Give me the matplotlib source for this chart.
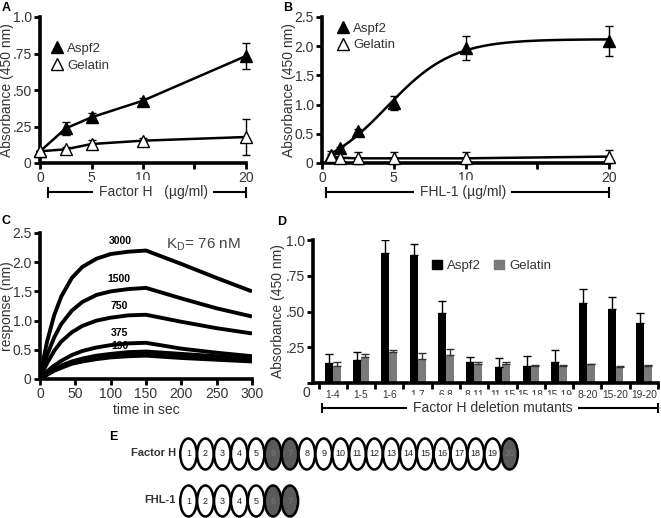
import numpy as np
import matplotlib
matplotlib.use('Agg')
import matplotlib.pyplot as plt
from matplotlib.patches import Ellipse, Patch
from matplotlib.lines import Line2D

plt.rcParams['font.family'] = ['Liberation Sans', 'DejaVu Sans']

# ---------------- data ----------------
# Panel A
a_conc = [0, 2.5, 5, 10, 20]
a_aspf2 = [0.08, 0.237, 0.313, 0.427, 0.733]
a_aspf2_err = [0.0, 0.045, 0.03, 0.02, 0.09]
a_gel = [0.08, 0.094, 0.13, 0.153, 0.178]
a_gel_err = [0.0, 0.015, 0.03, 0.015, 0.12]
a_xticks = [0, 5, 10, 15, 20]
a_xticklabels = ['0', '5', '10', '', '20']
a_yticks = [0, 0.25, 0.5, 0.75, 1.0]
a_yticklabels = ['0', '.25', '.50', '.75', '1.0']

# Panel B
b_conc = [0.625, 1.25, 2.5, 5, 10, 20]
b_aspf2 = [0.13, 0.25, 0.55, 1.03, 1.97, 2.09]
b_aspf2_err = [0.02, 0.03, 0.04, 0.12, 0.2, 0.26]
b_gel = [0.12, 0.09, 0.08, 0.08, 0.08, 0.11]
b_gel_err = [0.09, 0.09, 0.1, 0.1, 0.1, 0.11]
b_xticks = [0, 5, 10, 15, 20]
b_xticklabels = ['0', '5', '10', '', '20']
b_yticks = [0, 0.5, 1.0, 1.5, 2.0, 2.5]
b_yticklabels = ['0', '0.5', '1.0', '1.5', '2.0', '2.5']

# Panel C (sensorgrams, values read at time points)
c_time = [0, 5, 10, 20, 30, 45, 60, 80, 100, 125, 150, 200, 250, 300]
c_conc_labels = ['3000', '1500', '750', '375', '190', '', '']
c_resp = [
    [0, 0.35, 0.64, 1.09, 1.41, 1.73, 1.92, 2.06, 2.14, 2.18, 2.20, 1.97, 1.73, 1.50],
    [0, 0.22, 0.41, 0.71, 0.94, 1.17, 1.32, 1.44, 1.50, 1.54, 1.56, 1.38, 1.21, 1.07],
    [0, 0.15, 0.27, 0.48, 0.64, 0.80, 0.91, 1.00, 1.05, 1.09, 1.10, 0.98, 0.87, 0.78],
    [0, 0.07, 0.13, 0.23, 0.31, 0.41, 0.48, 0.54, 0.58, 0.61, 0.62, 0.52, 0.45, 0.39],
    [0, 0.05, 0.09, 0.16, 0.23, 0.30, 0.35, 0.40, 0.43, 0.46, 0.47, 0.43, 0.39, 0.35],
    [0, 0.04, 0.08, 0.15, 0.21, 0.28, 0.33, 0.37, 0.40, 0.42, 0.43, 0.39, 0.35, 0.32],
    [0, 0.04, 0.07, 0.14, 0.19, 0.26, 0.30, 0.34, 0.37, 0.39, 0.40, 0.36, 0.33, 0.30],
]
c_label_pos = [(113, 2.28), (111, 1.63), (112, 1.16), (112, 0.70), (113, 0.48)]
c_xticks = [0, 50, 100, 150, 200, 250, 300]
c_yticks = [0, 0.5, 1.0, 1.5, 2.0, 2.5]
c_yticklabels = ['0', '0.5', '1.0', '1.5', '2.0', '2.5']

# Panel D
d_labels = ['1-4', '1-5', '1-6', '1-7', '6-8', '8-11', '11-15', '15-18',
            '15-19', '8-20', '15-20', '19-20']
d_aspf2 = [0.14, 0.16, 0.91, 0.895, 0.49, 0.15, 0.115, 0.12, 0.15, 0.56, 0.52, 0.42]
d_aspf2_err = [0.06, 0.06, 0.09, 0.08, 0.08, 0.03, 0.06, 0.07, 0.08, 0.095, 0.08, 0.07]
d_gel = [0.12, 0.18, 0.22, 0.17, 0.195, 0.135, 0.135, 0.12, 0.12, 0.13, 0.115, 0.12]
d_gel_err = [0.03, 0.02, 0.01, 0.04, 0.04, 0.01, 0.01, 0.003, 0.003, 0.005, 0.003, 0.005]
d_yticks = [0, 0.25, 0.5, 0.75, 1.0]
d_yticklabels = ['', '.25', '.50', '.75', '1.0']

# Panel E
e_fh_modules = list(range(1, 21))
e_fh_dark = [6, 7, 20]
e_fhl_modules = list(range(1, 8))
e_fhl_dark = [6, 7]

# ---------------- figure ----------------
W, H = 661, 518
fig = plt.figure(figsize=(W / 100, H / 100), dpi=100)
TXT = '#333333'


def px_axes(l, r, top, bot):
    return fig.add_axes([l / W, (H - bot) / H, (r - l) / W, (bot - top) / H])


def style(ax):
    for s in ('top', 'right'):
        ax.spines[s].set_visible(False)
    for s in ('left', 'bottom'):
        ax.spines[s].set_linewidth(2.6)
        ax.spines[s].set_color('black')
    ax.tick_params(direction='out', length=4, width=2, colors='black',
                   labelcolor=TXT, labelsize=10, pad=2)
    ax.set_facecolor('none')


def bracket(ax, x1, x2, y, xt, text, fs=10):
    kw = dict(transform=ax.transAxes, clip_on=False, color='black', lw=1.5)
    ax.plot([x1, x2], [y, y], **kw)
    ax.plot([x1, x1], [y - 0.03, y + 0.03], **kw)
    ax.plot([x2, x2], [y - 0.03, y + 0.03], **kw)
    ax.text(xt, y, text, transform=ax.transAxes, ha='center', va='center',
            fontsize=fs, color=TXT,
            bbox=dict(facecolor='white', edgecolor='none', pad=4))


# ---- Panel A ----
axA = px_axes(40, 246, 17, 163)
style(axA)
axA.errorbar(a_conc, a_aspf2, yerr=a_aspf2_err, fmt='-', marker='^', color='black',
             ms=8, lw=1.8, elinewidth=1.0, capsize=3, capthick=1.0, clip_on=False,
             zorder=3)
axA.errorbar(a_conc, a_gel, yerr=a_gel_err, fmt='-', marker='^', color='black',
             mfc='white', mec='black', ms=8, lw=1.8, elinewidth=1.0, capsize=3,
             capthick=1.0, clip_on=False, zorder=3)
axA.set_xlim(0, 20)
axA.set_ylim(0, 1.0)
axA.set_xticks(a_xticks)
axA.set_xticklabels(a_xticklabels)
axA.set_yticks(a_yticks)
axA.set_yticklabels(a_yticklabels)
axA.set_ylabel('Absorbance (450 nm)', fontsize=10, color=TXT)
axA.yaxis.set_label_coords(-0.128, 0.5)
hA = [Line2D([], [], marker='^', ls='none', color='black', ms=8),
      Line2D([], [], marker='^', ls='none', color='black', mfc='white', ms=8)]
axA.legend(hA, ['Aspf2', 'Gelatin'], loc='upper left', bbox_to_anchor=(0.03, 0.86),
           frameon=False, fontsize=9.5, handlelength=0.8, handletextpad=0.4,
           labelspacing=0.35, labelcolor=TXT, borderaxespad=0)
bracket(axA, 0.039, 1.0, -0.2, 0.55, 'Factor H   (µg/ml)')

# ---- Panel B ----
axB = px_axes(322, 609, 17, 163)
style(axB)
xs = np.array(b_conc)
ys = np.array(b_aspf2)
best = None
for x0 in np.linspace(2, 9, 141):
    for s in np.linspace(0.5, 4, 141):
        g = 1.0 / (1.0 + np.exp(-(xs - x0) / s))
        M = np.vstack([np.ones_like(g), g]).T
        coef = np.linalg.lstsq(M, ys, rcond=None)[0]
        r = np.sum((M @ coef - ys) ** 2)
        if best is None or r < best[0]:
            best = (r, x0, s, coef)
_, bx0, bs, bcoef = best
xfit = np.linspace(xs.min(), xs.max(), 300)
yfit = bcoef[0] + bcoef[1] / (1.0 + np.exp(-(xfit - bx0) / bs))
axB.plot(xfit, yfit, color='black', lw=1.8, zorder=2)
axB.errorbar(b_conc, b_aspf2, yerr=b_aspf2_err, fmt='none', ecolor='black',
             elinewidth=1.0, capsize=3, capthick=1.0, clip_on=False, zorder=3)
axB.plot(b_conc, b_aspf2, ls='none', marker='^', color='black', ms=8,
         clip_on=False, zorder=4)
axB.errorbar(b_conc, b_gel, yerr=b_gel_err, fmt='-', marker='^', color='black',
             mfc='white', mec='black', ms=8, lw=1.8, elinewidth=1.0, capsize=3,
             capthick=1.0, clip_on=False, zorder=5)
axB.set_xlim(0, 20)
axB.set_ylim(0, 2.5)
axB.set_xticks(b_xticks)
axB.set_xticklabels(b_xticklabels)
axB.set_yticks(b_yticks)
axB.set_yticklabels(b_yticklabels)
axB.set_ylabel('Absorbance (450 nm)', fontsize=10, color=TXT)
axB.yaxis.set_label_coords(-0.092, 0.5)
axB.legend(hA, ['Aspf2', 'Gelatin'], loc='upper left', bbox_to_anchor=(0.035, 1.0),
           frameon=False, fontsize=9.5, handlelength=0.8, handletextpad=0.4,
           labelspacing=0.35, labelcolor=TXT, borderaxespad=0)
bracket(axB, 0.014, 1.0, -0.2, 0.49, 'FHL-1 (µg/ml)')

# ---- Panel C ----
axC = px_axes(40, 252, 233, 379)
style(axC)
for vals in c_resp[::-1]:
    axC.plot(c_time, vals, color='black', lw=2.8, solid_joinstyle='round',
             solid_capstyle='butt', zorder=3)
for lab, (tx, ty) in zip(c_conc_labels, c_label_pos):
    axC.text(tx, ty, lab, ha='center', va='bottom', fontsize=7.5,
             fontweight='bold', color='black', zorder=2)
axC.text(178, 2.3, r'K$_{\mathregular{D}}$= 76 nM', ha='left', va='center',
         fontsize=11, color='#444444')
axC.set_xlim(0, 300)
axC.set_ylim(0, 2.5)
axC.set_xticks(c_xticks)
axC.set_yticks(c_yticks)
axC.set_yticklabels(c_yticklabels)
axC.set_xlabel('time in sec', fontsize=10, color=TXT, labelpad=1)
axC.set_ylabel('response (nm)', fontsize=10, color=TXT)
axC.yaxis.set_label_coords(-0.124, 0.5)

# ---- Panel D ----
axD = px_axes(313, 658, 240, 383)
style(axD)
xd = np.arange(len(d_labels))
bw = 0.28
axD.bar(xd - bw / 2, d_aspf2, bw, color='black', zorder=2)
axD.bar(xd + bw / 2, d_gel, bw, color='#7a7a7a', zorder=2)
axD.errorbar(xd - bw / 2, d_aspf2, yerr=[np.zeros(len(xd)), d_aspf2_err], fmt='none',
             ecolor='black', elinewidth=1.0, capsize=3, capthick=1.0, zorder=3)
axD.errorbar(xd + bw / 2, d_gel, yerr=[np.zeros(len(xd)), d_gel_err], fmt='none',
             ecolor='#333333', elinewidth=1.0, capsize=3, capthick=1.0, zorder=3)
axD.set_xlim(-0.7, 11.39)
axD.set_ylim(0, 1.0)
axD.set_xticks(xd)
axD.set_xticklabels(d_labels, fontsize=7.3)
axD.tick_params(axis='x', which='major', length=0, pad=5)
axD.set_xticks(np.arange(len(d_labels) + 1) - 0.5, minor=True)
axD.tick_params(axis='x', which='minor', length=4, width=2, direction='out')
axD.set_yticks(d_yticks)
axD.set_yticklabels(d_yticklabels)
axD.set_ylabel('Absorbance (450 nm)', fontsize=10, color=TXT)
axD.yaxis.set_label_coords(-0.08, 0.5)
axD.legend([Patch(color='black'), Patch(color='#7a7a7a')], ['Aspf2', 'Gelatin'],
           loc='center left', bbox_to_anchor=(0.33, 0.82), ncol=2, frameon=False,
           fontsize=9.5, handlelength=0.75, handleheight=0.75, handletextpad=0.4,
           columnspacing=1.0, labelcolor=TXT, borderaxespad=0)
bracket(axD, 0.026, 1.0, -0.175, 0.52, 'Factor H deletion mutants')
fig.text(310 / W, 1 - 393 / H, '0', ha='right', va='center', fontsize=10, color=TXT)

# ---- overlay: panel letters and panel E ----
ov = fig.add_axes([0, 0, 1, 1])
ov.set_xlim(0, W)
ov.set_ylim(H, 0)
ov.axis('off')
ov.set_facecolor('none')
for letter, (lx, ly) in zip('ABCDE', [(6, 8), (288, 8), (6, 221), (282, 222), (113, 437)]):
    ov.text(lx, ly, letter, ha='center', va='center', fontsize=9, fontweight='bold',
            color='black')


def module_row(mods, dark, yc, label):
    ov.text(176, yc - 1, label, ha='right', va='center', fontsize=8,
            fontweight='bold', color=TXT)
    for m in mods:
        xc = 188.5 + (m - 1) * 16.9
        isd = m in dark
        ov.add_patch(Ellipse((xc, yc), 16.5, 31, facecolor='#5a5a5a' if isd else 'white',
                             edgecolor='black', lw=1.8))
        ov.text(xc, yc, str(m), ha='center', va='center', fontsize=6.5,
                color='#777777' if isd else '#222222')


module_row(e_fh_modules, e_fh_dark, 454, 'Factor H')
module_row(e_fhl_modules, e_fhl_dark, 501, 'FHL-1')

fig.savefig('out.png', dpi=100)
